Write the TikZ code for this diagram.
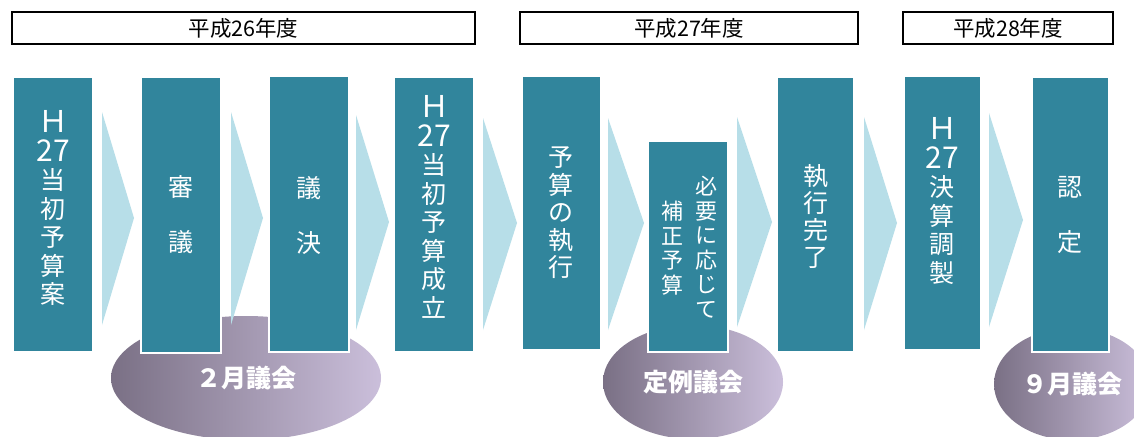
\documentclass[tikz,border=0pt]{standalone}
\usepackage{fontspec}
\newfontfamily\jp{Noto Sans CJK JP}
\usetikzlibrary{shapes.geometric}
\definecolor{boxc}{HTML}{31859C}
\definecolor{arrc}{HTML}{B7DEE8}
\definecolor{elL}{HTML}{7A7085}
\definecolor{elR}{HTML}{CBBFDB}
\newcommand\hlat[1]{{\fontsize{30}{28.5}\selectfont #1}}
\begin{document}
\begin{tikzpicture}[x=1pt,y=-1pt,
  hdr/.style={draw=black, line width=2pt, inner sep=0pt, font=\jp\fontsize{21.5}{24}\selectfont},
  box/.style={fill=boxc, draw=white, line width=1.5pt, inner sep=0pt},
  arr/.style={fill=arrc},
  vt/.style={text=white, font=\jp\fontsize{25}{28.5}\selectfont, align=center, inner sep=0pt},
  vts/.style={text=white, font=\jp\fontsize{22}{24.5}\selectfont, align=center, inner sep=0pt},
  meet/.style={ellipse, left color=elL, right color=elR, draw=none, inner sep=0pt,
    text=white, font=\jp\bfseries\fontsize{25}{28}\selectfont}]
\useasboundingbox (0,0) rectangle (1134,436);
\clip (0,0) rectangle (1134,436);
\fill[white] (0,0) rectangle (1134,436);
% headers
\node[hdr, minimum width=463pt, minimum height=32pt] (h1) at (243.5,28) {平成26年度};
\node[hdr, minimum width=338pt, minimum height=32pt] (h2) at (689,28) {平成27年度};
\node[hdr, minimum width=210pt, minimum height=32pt] (h3) at (1008,28) {平成28年度};
% meetings
\node[meet, minimum width=270pt, minimum height=124pt] (e1) at (246,378) {２月議会};
\node[meet, minimum width=180pt, minimum height=114pt] (e2) at (693,382) {定例議会};
\node[meet, minimum width=156pt, minimum height=112pt] (e3) at (1072,384) {９月議会};
% arrows
\fill[arr] (102,112) -- (134,218) -- (102,325) -- cycle;
\fill[arr] (231,112) -- (263,218) -- (231,325) -- cycle;
\fill[arr] (356,115) -- (389,222) -- (356,330) -- cycle;
\fill[arr] (483,118) -- (517,223) -- (483,330) -- cycle;
\fill[arr] (608,118) -- (644,223) -- (608,330) -- cycle;
\fill[arr] (737,117) -- (772,222) -- (737,327) -- cycle;
\fill[arr] (864,117) -- (897,223) -- (864,330) -- cycle;
\fill[arr] (989,113) -- (1023,220) -- (989,327) -- cycle;
% boxes
\node[box, minimum width=80pt, minimum height=275pt] (b1) at (53,214.5) {};
\node[box, minimum width=80pt, minimum height=276pt] (b2) at (181,215) {};
\node[box, minimum width=80pt, minimum height=276pt] (b3) at (309,214) {};
\node[box, minimum width=80pt, minimum height=275pt] (b4) at (434,214.5) {};
\node[box, minimum width=79pt, minimum height=274pt] (b5) at (561.5,213) {};
\node[box, minimum width=80pt, minimum height=211pt] (b6) at (688,246.5) {};
\node[box, minimum width=77pt, minimum height=275pt] (b7) at (815.5,214.5) {};
\node[box, minimum width=77pt, minimum height=274pt] (b8) at (942.5,213) {};
\node[box, minimum width=77pt, minimum height=275pt] (b9) at (1070.5,214.5) {};
% texts
\node[vt] (t1) at (53,208) {\hlat{Ｈ}\\\hlat{27}\\当\\初\\予\\算\\案};
\node[vt] (t2) at (181,215) {審\\[26.5pt]議};
\node[vt] (t3) at (309,215) {議\\[26.5pt]決};
\node[vt] (t4) at (434,207) {\hlat{Ｈ}\\\hlat{27}\\当\\初\\予\\算\\成\\立};
\node[vt, font=\jp\fontsize{25}{27.5}\selectfont] (t5) at (561,213) {予\\算\\の\\執\\行};
\node[vts] (t6a) at (706,247) {必\\要\\に\\応\\じ\\て};
\node[vts] (t6b) at (672,248) {補\\正\\予\\算};
\node[vt, font=\jp\fontsize{25}{27}\selectfont] (t7) at (816,216) {執\\行\\完\\了};
\node[vt] (t8) at (942,201) {\hlat{Ｈ}\\\hlat{27}\\決\\算\\調\\製};
\node[vt] (t9) at (1070,215) {認\\[26.5pt]定};
\end{tikzpicture}
\end{document}
